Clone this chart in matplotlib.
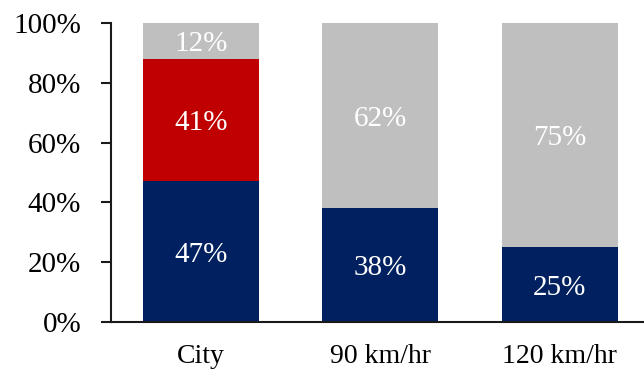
import matplotlib
matplotlib.use("Agg")
import matplotlib.pyplot as plt
from matplotlib.ticker import PercentFormatter

categories = ["City", "90 km/hr", "120 km/hr"]
navy_vals = [47, 38, 25]
red_vals = [41, 0, 0]
gray_vals = [12, 62, 75]

NAVY = "#002060"
RED = "#C00000"
GRAY = "#BFBFBF"

plt.rcParams["font.family"] = ["Liberation Serif", "DejaVu Serif"]

fig = plt.figure(figsize=(6.44, 3.73), dpi=100)
ax = fig.add_axes([0.1724, 0.1367, 0.8276, 0.8016])

x = list(range(len(categories)))
width = 0.646
bottom = [0] * len(categories)
for vals, color in [(navy_vals, NAVY), (red_vals, RED), (gray_vals, GRAY)]:
    ax.bar(x, vals, width, bottom=bottom, color=color, linewidth=0)
    for xi, b, v in zip(x, bottom, vals):
        if v > 0:
            ax.text(xi, b + v / 2, f"{v}%", ha="center", va="center_baseline",
                    color="white", fontsize=21)
    bottom = [b + v for b, v in zip(bottom, vals)]

ax.set_xlim(-0.5, 2.47)
ax.set_ylim(0, 100)
ax.set_yticks(range(0, 101, 20))
ax.yaxis.set_major_formatter(PercentFormatter(decimals=0))
ax.set_xticks(x)
ax.set_xticklabels(categories)

for side in ["top", "right"]:
    ax.spines[side].set_visible(False)
for side in ["left", "bottom"]:
    ax.spines[side].set_linewidth(1.5)
    ax.spines[side].set_color("#1a1a1a")

ax.tick_params(axis="y", length=7.5, width=1.5, pad=14, labelsize=21,
               color="#1a1a1a")
ax.tick_params(axis="x", length=0, pad=16, labelsize=20)

fig.savefig("out.png", dpi=100)
